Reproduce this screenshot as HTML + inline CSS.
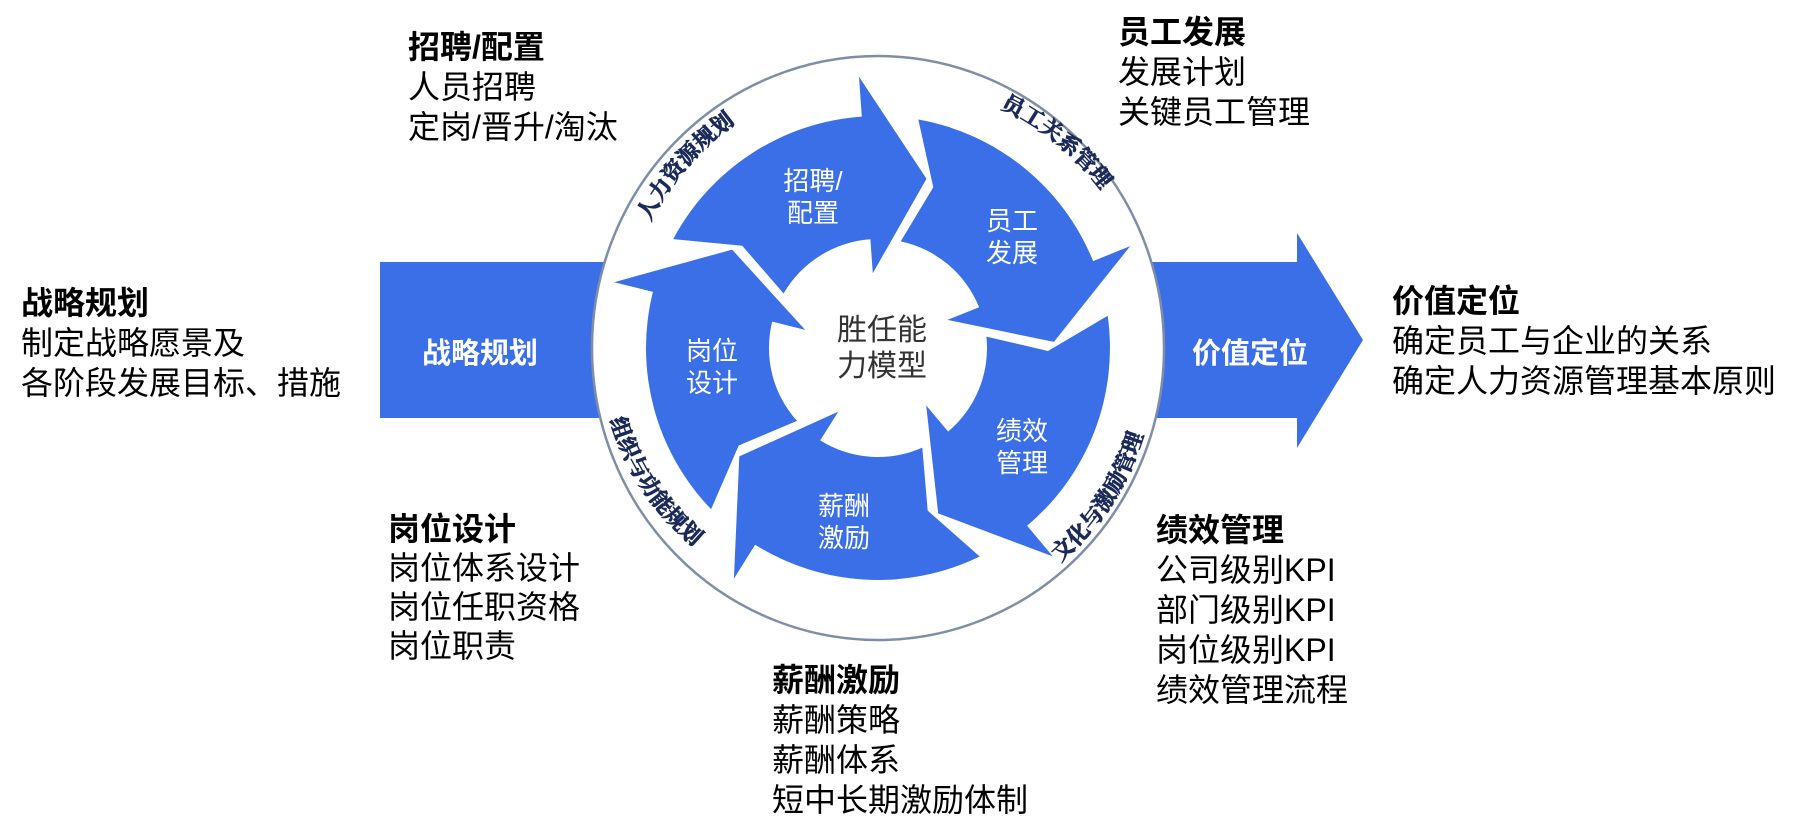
<!DOCTYPE html>
<html><head><meta charset="utf-8">
<style>
html,body{margin:0;padding:0;background:#fff;}
body{width:1811px;height:837px;position:relative;overflow:hidden;font-family:"Liberation Sans","Noto Sans CJK SC",sans-serif;}
.blk{position:absolute;font-size:32px;line-height:40px;color:#000;white-space:nowrap;}
.blk b{font-weight:bold;display:block;}
svg{position:absolute;left:0;top:0;}
</style></head><body>
<svg id="s" width="1811" height="837" viewBox="0 0 1811 837">
  <rect x="380" y="262" width="300" height="156" fill="#3a6fe8"/>
  <polygon points="1080,262 1297,262 1297,233 1363,340 1297,448 1297,418 1080,418" fill="#3a6fe8"/>
  <text x="480" y="363" font-size="29" font-weight="bold" fill="#fff" text-anchor="middle" font-family="Liberation Sans,Noto Sans CJK SC,sans-serif">战略规划</text>
  <text x="1250" y="363" font-size="29" font-weight="bold" fill="#fff" text-anchor="middle" font-family="Liberation Sans,Noto Sans CJK SC,sans-serif">价值定位</text>
  <ellipse cx="878" cy="348" rx="286" ry="292" fill="#fff" stroke="#7f8ea6" stroke-width="2.5"/>
  <g id="arrows" fill="#3a6fe8"></g>
  <defs>
    <path id="p1" d="M 650 222 A 264 264 0 0 1 780 98"/>
    <path id="p2" d="M 1000 108 A 264 264 0 0 1 1127 232"/>
    <path id="p3" d="M 1060 562 A 264 264 0 0 0 1150 405"/>
    <path id="p4" d="M 610 420 A 264 264 0 0 0 715 562"/>
  </defs>
  <g font-size="22" font-weight="bold" fill="#1b2a58" stroke="#1b2a58" stroke-width="0.8" font-family="Liberation Serif,Noto Serif CJK SC,serif">
    <text><textPath href="#p1">人力资源规划</textPath></text>
    <text><textPath href="#p2">员工关系管理</textPath></text>
    <text><textPath href="#p3">文化与激励管理</textPath></text>
    <text><textPath href="#p4">组织与功能规划</textPath></text>
  </g>
  <g font-size="26" fill="#fff" text-anchor="middle" font-family="Liberation Sans,Noto Sans CJK SC,sans-serif">
    <text x="813" y="190">招聘/</text><text x="813" y="222">配置</text>
    <text x="1012" y="230">员工</text><text x="1012" y="262">发展</text>
    <text x="712" y="360">岗位</text><text x="712" y="392">设计</text>
    <text x="1022" y="440">绩效</text><text x="1022" y="472">管理</text>
    <text x="844" y="515">薪酬</text><text x="844" y="547">激励</text>
  </g>
  <g font-size="30" fill="#333" text-anchor="middle" font-family="Liberation Sans,Noto Sans CJK SC,sans-serif">
    <text x="882" y="340">胜任能</text><text x="882" y="376">力模型</text>
  </g>
</svg>
<script>
(function(){
 var cx=878,cy=348,ri=109,ro=232,g=document.getElementById('arrows');
 function P(a,r){var t=a*Math.PI/180;return (cx+r*Math.cos(t)).toFixed(1)+' '+(cy+r*Math.sin(t)).toFixed(1);}
 var T=[-74,-2,70,142,214];
 T.forEach(function(t){
  var tp=t-72;
  var d='M '+P(tp-6,ro)+' A '+ro+' '+ro+' 0 0 1 '+P(t-20,ro)+' L '+P(t-20,272)+' L '+P(t,176)+' L '+P(t-20,75)+' L '+P(t-20,ri)+' A '+ri+' '+ri+' 0 0 0 '+P(tp-4,ri)+' L '+P(tp+3,170)+' Z';
  var p=document.createElementNS('http://www.w3.org/2000/svg','path');
  p.setAttribute('d',d);g.appendChild(p);
 });
})();
</script>
<div class="blk" style="left:21px;top:283px;"><b>战略规划</b>制定战略愿景及<br>各阶段发展目标、措施</div>
<div class="blk" style="left:408px;top:27px;"><b>招聘/配置</b>人员招聘<br>定岗/晋升/淘汰</div>
<div class="blk" style="left:1118px;top:12px;"><b>员工发展</b>发展计划<br>关键员工管理</div>
<div class="blk" style="left:1392px;top:281px;"><b>价值定位</b>确定员工与企业的关系<br>确定人力资源管理基本原则</div>
<div class="blk" style="left:388px;top:510px;line-height:39px;"><b>岗位设计</b>岗位体系设计<br>岗位任职资格<br>岗位职责</div>
<div class="blk" style="left:1156px;top:510px;"><b>绩效管理</b>公司级别KPI<br>部门级别KPI<br>岗位级别KPI<br>绩效管理流程</div>
<div class="blk" style="left:772px;top:660px;"><b>薪酬激励</b>薪酬策略<br>薪酬体系<br>短中长期激励体制</div>
</body></html>
